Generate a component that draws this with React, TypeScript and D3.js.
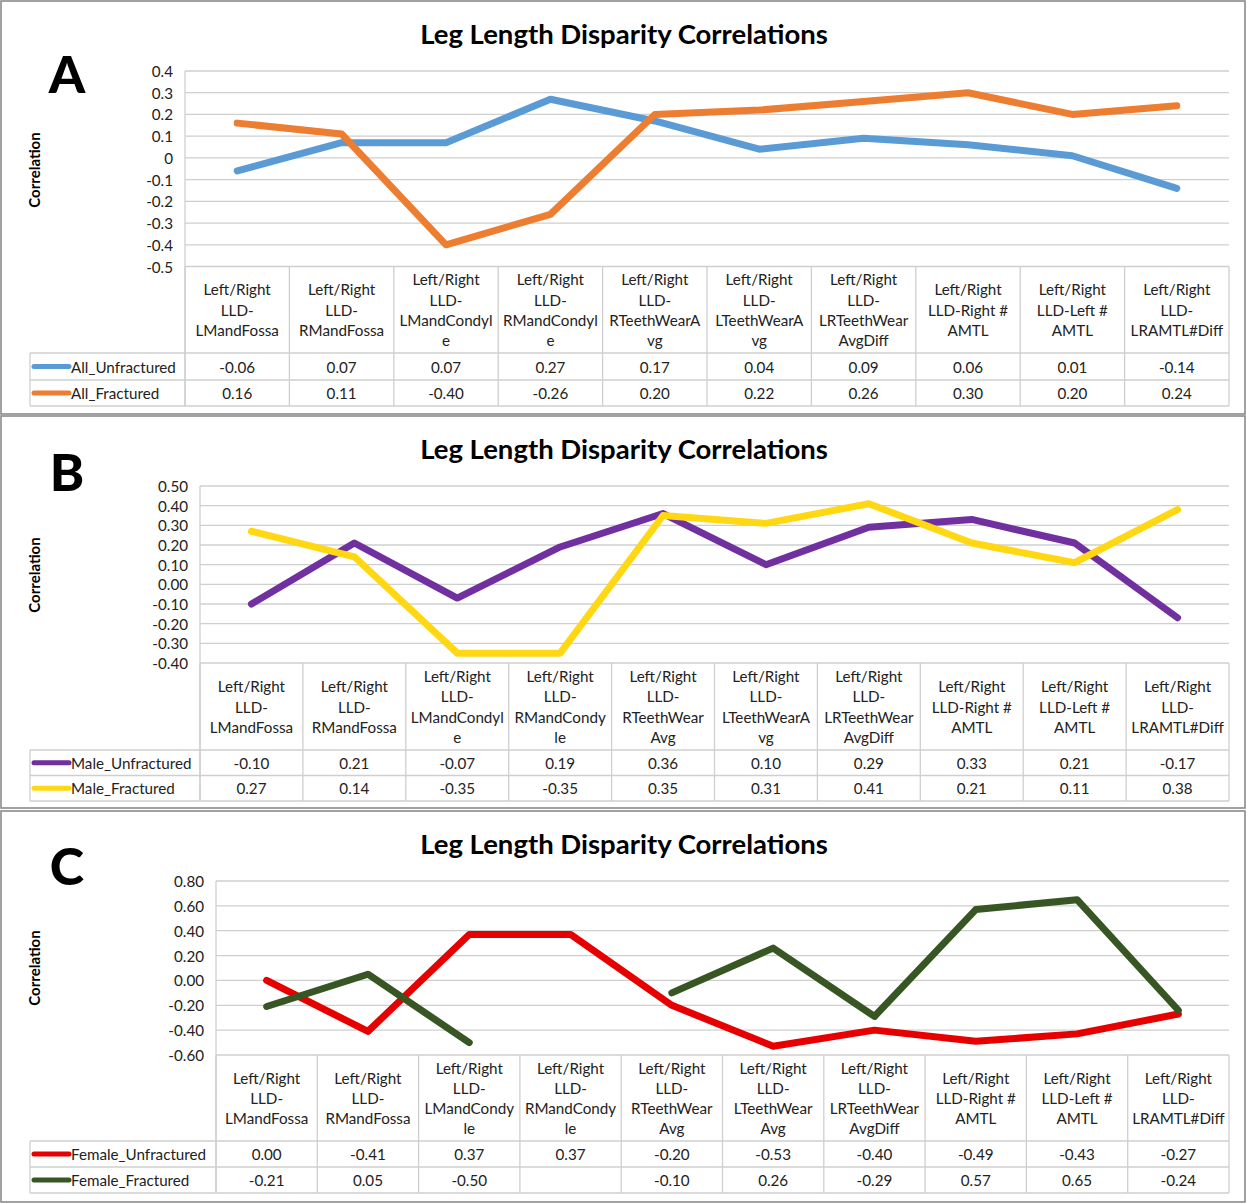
import React from "react";
import * as d3 from "d3";

// ---------- DATA ----------
const title = "Leg Length Disparity Correlations";
const yAxisLabel = "Correlation";

const categoriesA = [
  "Left/Right|LLD-|LMandFossa",
  "Left/Right|LLD-|RMandFossa",
  "Left/Right|LLD-|LMandCondyl|e",
  "Left/Right|LLD-|RMandCondyl|e",
  "Left/Right|LLD-|RTeethWearA|vg",
  "Left/Right|LLD-|LTeethWearA|vg",
  "Left/Right|LLD-|LRTeethWear|AvgDiff",
  "Left/Right|LLD-Right #|AMTL",
  "Left/Right|LLD-Left #|AMTL",
  "Left/Right|LLD-|LRAMTL#Diff",
];
const categoriesB = [
  "Left/Right|LLD-|LMandFossa",
  "Left/Right|LLD-|RMandFossa",
  "Left/Right|LLD-|LMandCondyl|e",
  "Left/Right|LLD-|RMandCondy|le",
  "Left/Right|LLD-|RTeethWear|Avg",
  "Left/Right|LLD-|LTeethWearA|vg",
  "Left/Right|LLD-|LRTeethWear|AvgDiff",
  "Left/Right|LLD-Right #|AMTL",
  "Left/Right|LLD-Left #|AMTL",
  "Left/Right|LLD-|LRAMTL#Diff",
];
const categoriesC = [
  "Left/Right|LLD-|LMandFossa",
  "Left/Right|LLD-|RMandFossa",
  "Left/Right|LLD-|LMandCondy|le",
  "Left/Right|LLD-|RMandCondy|le",
  "Left/Right|LLD-|RTeethWear|Avg",
  "Left/Right|LLD-|LTeethWear|Avg",
  "Left/Right|LLD-|LRTeethWear|AvgDiff",
  "Left/Right|LLD-Right #|AMTL",
  "Left/Right|LLD-Left #|AMTL",
  "Left/Right|LLD-|LRAMTL#Diff",
];

const allUnfractured = [-0.06, 0.07, 0.07, 0.27, 0.17, 0.04, 0.09, 0.06, 0.01, -0.14];
const allFractured = [0.16, 0.11, -0.4, -0.26, 0.2, 0.22, 0.26, 0.3, 0.2, 0.24];
const maleUnfractured = [-0.1, 0.21, -0.07, 0.19, 0.36, 0.1, 0.29, 0.33, 0.21, -0.17];
const maleFractured = [0.27, 0.14, -0.35, -0.35, 0.35, 0.31, 0.41, 0.21, 0.11, 0.38];
const femaleUnfractured = [0.0, -0.41, 0.37, 0.37, -0.2, -0.53, -0.4, -0.49, -0.43, -0.27];
const femaleFractured: (number | null)[] = [-0.21, 0.05, -0.5, null, -0.1, 0.26, -0.29, 0.57, 0.65, -0.24];

const seriesNamesA = ["All_Unfractured", "All_Fractured"];
const seriesNamesB = ["Male_Unfractured", "Male_Fractured"];
const seriesNamesC = ["Female_Unfractured", "Female_Fractured"];

const colorsA = ["#5B9BD5", "#ED7D31"];
const colorsB = ["#7030A0", "#FFD813"];
const colorsC = ["#E60000", "#375623"];

const ticksA = [0.4, 0.3, 0.2, 0.1, 0, -0.1, -0.2, -0.3, -0.4, -0.5];
const ticksB = [0.5, 0.4, 0.3, 0.2, 0.1, 0, -0.1, -0.2, -0.3, -0.4];
const ticksC = [0.8, 0.6, 0.4, 0.2, 0, -0.2, -0.4, -0.6];

// ---------- LAYOUT ----------
const W = 1247;
const H = 1203;
const FONT = "Lato, 'Open Sans', sans-serif";
const GRID = "#cfcfcf";
const FS = 15.2;

type PanelProps = {
  letter: string;
  top: number;
  bottom: number;
  yTopPx: number;
  yBotPx: number;
  plotLeft: number;
  headerBottom: number;
  row1Bottom: number;
  row2Bottom: number;
  letterBaseline: number;
  titleY: number;
  ylabelY: number;
  categories: string[];
  series: (number | null)[][];
  names: string[];
  colors: string[];
  ticks: number[];
  fmt: (v: number) => string;
};

const fmtA = (v: number) => (Math.abs(v) < 1e-9 ? "0" : d3.format(".1f")(v).replace("−", "-"));
const fmt2 = (v: number) => d3.format(".2f")(v).replace("−", "-");

function Panel(p: PanelProps) {
  const plotRight = 1229;
  const legendLeft = 30;
  const x = d3
    .scaleBand<number>()
    .domain(p.categories.map((_, i) => i))
    .range([p.plotLeft, plotRight]);
  const y = d3
    .scaleLinear()
    .domain([d3.min(p.ticks)!, d3.max(p.ticks)!])
    .range([p.yBotPx, p.yTopPx]);
  const line = d3
    .line<number | null>()
    .defined((d) => d != null)
    .x((_, i) => x(i)! + x.bandwidth() / 2)
    .y((d) => y(d as number));

  const boundaries = d3.range(p.categories.length + 1).map((i) =>
    i < p.categories.length ? x(i)! : plotRight
  );
  const headerMid = (p.yBotPx + p.headerBottom) / 2;
  const rowMids = [(p.headerBottom + p.row1Bottom) / 2, (p.row1Bottom + p.row2Bottom) / 2];
  const lh = 20.3;

  return (
    <g fontFamily={FONT}>
      <rect x={1} y={p.top} width={1244} height={p.bottom - p.top} fill="#fff" stroke="#8a8a8a" strokeWidth={1.6} />
      <text x={624} y={p.titleY} textAnchor="middle" dominantBaseline="central" fontSize={27.5} fontWeight={700} fill="#000">
        {title}
      </text>
      <text x={67} y={p.letterBaseline} textAnchor="middle" fontSize={52} fontWeight={900} fill="#000">
        {p.letter}
      </text>
      <text
        transform={`translate(40,${p.ylabelY}) rotate(-90)`}
        textAnchor="middle"
        fontSize={15}
        fontWeight={700}
        fill="#000"
      >
        {yAxisLabel}
      </text>
      {/* gridlines */}
      {p.ticks.map((t) => (
        <line key={t} x1={p.plotLeft} x2={plotRight} y1={y(t)} y2={y(t)} stroke={GRID} strokeWidth={1.3} />
      ))}
      {p.ticks.map((t) => (
        <text key={"l" + t} x={p.plotLeft - 12} y={y(t)} textAnchor="end" dominantBaseline="central" fontSize={FS} fill="#222">
          {p.fmt(t)}
        </text>
      ))}
      {/* left axis */}
      <line x1={p.plotLeft} x2={p.plotLeft} y1={p.yTopPx} y2={p.row2Bottom} stroke={GRID} strokeWidth={1.3} />
      {/* table */}
      {boundaries.map((bx, i) => (
        <line key={"v" + i} x1={bx} x2={bx} y1={p.yBotPx} y2={p.row2Bottom} stroke={GRID} strokeWidth={1.3} />
      ))}
      <line x1={legendLeft} x2={legendLeft} y1={p.headerBottom} y2={p.row2Bottom} stroke={GRID} strokeWidth={1.3} />
      {[p.headerBottom, p.row1Bottom, p.row2Bottom].map((ly, i) => (
        <line key={"h" + i} x1={legendLeft} x2={plotRight} y1={ly} y2={ly} stroke={GRID} strokeWidth={1.3} />
      ))}
      {p.categories.map((c, i) => {
        const lines = c.split("|");
        const cx = x(i)! + x.bandwidth() / 2;
        return (
          <text key={"c" + i} textAnchor="middle" fontSize={FS} fill="#222">
            {lines.map((ln, j) => (
              <tspan key={j} x={cx} y={headerMid + (j - (lines.length - 1) / 2) * lh} dominantBaseline="central">
                {ln}
              </tspan>
            ))}
          </text>
        );
      })}
      {p.series.map((s, si) => (
        <g key={"r" + si}>
          <line
            x1={legendLeft + 4}
            x2={legendLeft + 39}
            y1={rowMids[si]}
            y2={rowMids[si]}
            stroke={p.colors[si]}
            strokeWidth={5}
            strokeLinecap="round"
          />
          <text x={legendLeft + 41} y={rowMids[si]} dominantBaseline="central" fontSize={FS} fill="#222">
            {p.names[si]}
          </text>
          {s.map((v, i) =>
            v == null ? null : (
              <text
                key={i}
                x={x(i)! + x.bandwidth() / 2}
                y={rowMids[si]}
                textAnchor="middle"
                dominantBaseline="central"
                fontSize={FS}
                fill="#222"
              >
                {fmt2(v)}
              </text>
            )
          )}
        </g>
      ))}
      {/* series lines */}
      {p.series.map((s, si) => (
        <path
          key={"p" + si}
          d={line(s) || ""}
          fill="none"
          stroke={p.colors[si]}
          strokeWidth={7}
          strokeLinecap="round"
          strokeLinejoin="round"
        />
      ))}
    </g>
  );
}

export default function App() {
  return (
    <div style={{ position: "absolute", left: 0, top: 0 }}>
      <svg width={W} height={H} style={{ display: "block", background: "#fff" }}>
        <Panel
          letter="A"
          top={1}
          bottom={414}
          yTopPx={71}
          yBotPx={266.5}
          plotLeft={185}
          headerBottom={353}
          row1Bottom={380}
          row2Bottom={406}
          letterBaseline={93}
          titleY={33}
          ylabelY={170}
          categories={categoriesA}
          series={[allUnfractured, allFractured]}
          names={seriesNamesA}
          colors={colorsA}
          ticks={ticksA}
          fmt={fmtA}
        />
        <Panel
          letter="B"
          top={416}
          bottom={808}
          yTopPx={486}
          yBotPx={663}
          plotLeft={200}
          headerBottom={750}
          row1Bottom={775.5}
          row2Bottom={801}
          letterBaseline={491}
          titleY={448}
          ylabelY={575}
          categories={categoriesB}
          series={[maleUnfractured, maleFractured]}
          names={seriesNamesB}
          colors={colorsB}
          ticks={ticksB}
          fmt={fmt2}
        />
        <Panel
          letter="C"
          top={811}
          bottom={1202}
          yTopPx={881}
          yBotPx={1055}
          plotLeft={216}
          headerBottom={1141}
          row1Bottom={1167}
          row2Bottom={1193}
          letterBaseline={885}
          titleY={843}
          ylabelY={968}
          categories={categoriesC}
          series={[femaleUnfractured, femaleFractured]}
          names={seriesNamesC}
          colors={colorsC}
          ticks={ticksC}
          fmt={fmt2}
        />
      </svg>
    </div>
  );
}
